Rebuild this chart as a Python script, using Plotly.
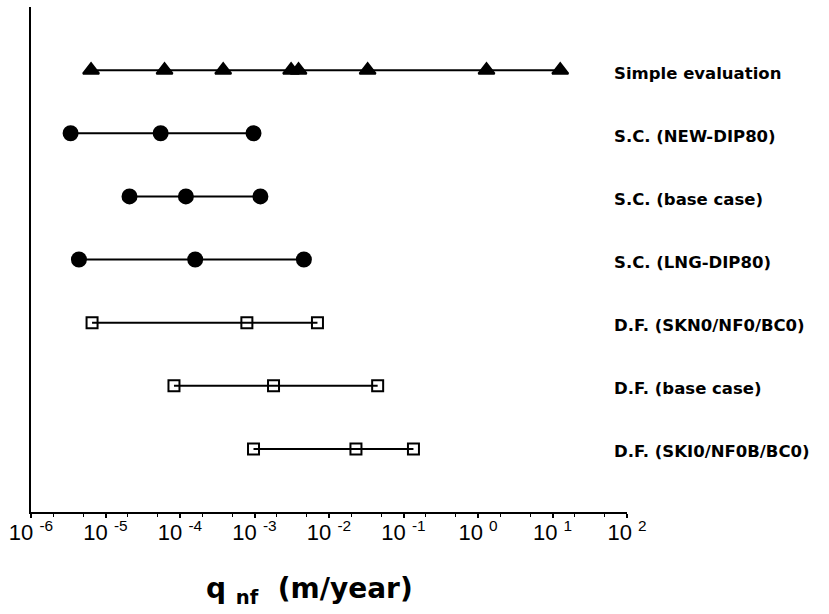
import plotly.graph_objects as go

# Flux ranges (m/year) for each evaluation case, top to bottom
cases = [
    "Simple evaluation",
    "S.C. (NEW-DIP80)",
    "S.C. (base case)",
    "S.C. (LNG-DIP80)",
    "D.F. (SKN0/NF0/BC0)",
    "D.F. (base case)",
    "D.F. (SKI0/NF0B/BC0)",
]
simple_eval = [6.4e-6, 6.2e-5, 3.8e-4, 3.1e-3, 3.9e-3, 3.3e-2, 1.3, 12.7]
sc_new_dip80 = [3.4e-6, 5.5e-5, 9.7e-4]
sc_base = [2.1e-5, 1.2e-4, 1.2e-3]
sc_lng_dip80 = [4.4e-6, 1.6e-4, 4.6e-3]
df_skn0 = [6.6e-6, 7.9e-4, 7.0e-3]
df_base = [8.3e-5, 1.8e-3, 4.5e-2]
df_ski0 = [9.7e-4, 2.3e-2, 0.136]

series = [simple_eval, sc_new_dip80, sc_base, sc_lng_dip80, df_skn0, df_base, df_ski0]
symbols = ["triangle-up", "circle", "circle", "circle",
           "square-open", "square-open", "square-open"]
sizes = [14, 14, 14, 14, 11, 11, 11]

tick_exps = [-6, -5, -4, -3, -2, -1, 0, 1, 2]
tick_vals = [10.0 ** e for e in tick_exps]
tick_text = [f"10 <sup>{e}</sup>" for e in tick_exps]

fig = go.Figure()
n = len(cases)
for i, (name, vals, sym, sz) in enumerate(zip(cases, series, symbols, sizes)):
    yv = n - i
    fig.add_trace(go.Scatter(
        x=vals, y=[yv] * len(vals),
        mode="lines+markers",
        line=dict(color="black", width=2),
        marker=dict(symbol=sym, size=sz, color="black",
                    line=dict(color="black", width=2)),
        name=name, showlegend=False,
    ))
    fig.add_annotation(
        x=0.975, xref="paper", y=yv, yref="y",
        text=name, showarrow=False, xanchor="left", yanchor="middle",
        yshift=-3,
        font=dict(family="DejaVu Sans", size=16.5, color="black", weight="bold"),
    )

fig.add_annotation(
    x=0.29, xref="paper", y=-0.155, yref="paper",
    text="q <sub>nf</sub>  (m/year)", showarrow=False,
    xanchor="left", yanchor="middle",
    font=dict(family="DejaVu Sans", size=28, color="black", weight="bold"),
)

fig.update_xaxes(
    type="log", range=[-6, 2],
    tickvals=tick_vals, ticktext=tick_text,
    ticks="outside", ticklen=4, tickwidth=1.5, tickcolor="black",
    minor=dict(ticks="outside", ticklen=3, tickwidth=1, tickcolor="black"),
    showline=True, linecolor="black", linewidth=2,
    showgrid=False, zeroline=False,
    ticklabelstandoff=-4,
    tickfont=dict(family="Liberation Sans Narrow, Arial Narrow, Liberation Sans", size=22, color="black"),
)
fig.update_yaxes(
    range=[0, 8],
    showticklabels=False, ticks="",
    showline=True, linecolor="black", linewidth=2,
    showgrid=False, zeroline=False,
)
fig.update_layout(
    width=829, height=614,
    margin=dict(l=31, r=202, t=7, b=102),
    paper_bgcolor="white", plot_bgcolor="white",
)

fig.write_html("out.html")
